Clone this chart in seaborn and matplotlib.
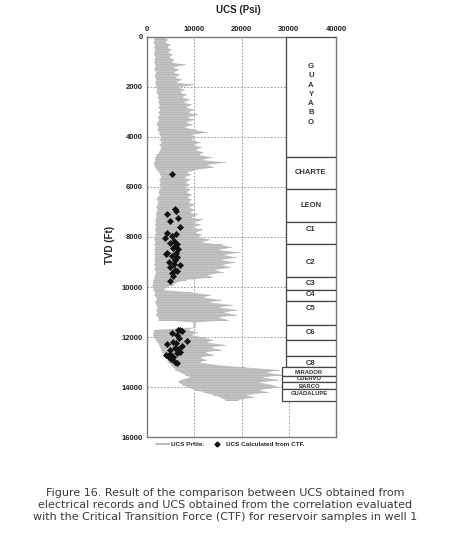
"""
UCS profile vs UCS calculated from CTF, well 1
"""

import numpy as np
import matplotlib
matplotlib.use("Agg")
import matplotlib.pyplot as plt
import seaborn as sns
from matplotlib.lines import Line2D

# UCS log envelope, sampled every 100 ft from 0 to 14500 ft (psi)
profile_depth = np.arange(0, 14600, 100)
ucs_low = [
    1300, 1500, 1300, 1600, 1400, 1600, 1500, 1400, 1700, 1500,
    1500, 1700, 1600, 1500, 1800, 1600, 1700, 1900, 1600, 1800,
    1800, 2100, 1900, 2300, 2200, 2500, 2300, 2600, 2400, 2700,
    2300, 2600, 2200, 2500, 2100, 2000, 2400, 2100, 2500, 2600,
    2900, 2600, 3000, 2600, 2900, 2700, 2500, 2000, 1700, 1600,
    1500, 1400, 1700, 2000, 2500, 2700, 2900, 2500, 2800, 2600,
    2800, 2500, 2400, 2600, 2200, 2000, 2400, 2100, 1900, 2200,
    2000, 1800, 1900, 1700, 1800, 1600, 1800, 1600, 1800, 1600,
    1600, 1500, 1700, 1500, 1700, 1500, 1600, 1500, 1700, 1500,
    1600, 1400, 1700, 1500, 1800, 1600, 1500, 1300, 1200, 1100,
    1200, 1300, 1600, 1500, 1800, 2000, 1600, 1900, 2200, 1900,
    2100, 1800, 2300, 2400, 9700, 9700, 9800, 1400, 1300, 1300,
    1300, 1800, 2200, 2500, 2700, 3000, 3200, 3500, 3800, 4200,
    4500, 5000, 5500, 6000, 7000, 8000, 9000, 7000, 6500, 7500,
    8500, 10000, 12000, 14000, 15500, 16500,
]
ucs_high = [
    3500, 4300, 3800, 4800, 4200, 5000, 4400, 5300, 4600, 5600,
    5200, 8000, 5400, 6600, 5600, 6800, 5900, 7200, 6100, 9800,
    6600, 7800, 6900, 8200, 7400, 8900, 7700, 9300, 8200, 9800,
    8600, 10500, 8400, 9900, 8100, 9600, 7900, 10200, 12600, 9400,
    10400, 9300, 11300, 9800, 11500, 10200, 11800, 10900, 13500, 11600,
    16500, 12600, 14000, 10200, 8400, 9200, 7800, 9000, 8100, 8900,
    8000, 9000, 8300, 9400, 8500, 9300, 8700, 9900, 8800, 10000,
    9000, 10600, 9300, 11600, 9800, 11300, 9600, 11700, 10200, 11400,
    10800, 13200, 11500, 15800, 17800, 15000, 19600, 16200, 18800, 15600,
    18600, 15800, 17600, 14200, 16000, 12800, 13800, 8200, 6200, 5400,
    4000, 3400, 9200, 13400, 11800, 15600, 13000, 18000, 15200, 19000,
    16200, 18800, 15000, 17200, 10200, 10200, 10200, 8600, 10600, 9400,
    11800, 13800, 12600, 16500, 13400, 15600, 12200, 14000, 11200, 12400,
    11000, 14600, 20800, 28000, 25200, 28600, 24400, 27800, 23600, 26400,
    28000, 23800, 25500, 21000, 22400, 19200,
]

# UCS calculated from CTF (reservoir samples)
ctf_depth = [
    5470, 6870, 6950, 7080, 7240, 7360, 7600, 7840, 7900, 7970,
    8050, 8180, 8240, 8270, 8380, 8460, 8480, 8640, 8700, 8640,
    8780, 8800, 8940, 9020, 9070, 9110, 9200, 9310, 9360, 9440,
    9550, 9750,
    11710, 11730, 11750, 11840, 11910, 12040, 12140, 12210, 12240, 12270,
    12350, 12440, 12480, 12510, 12580, 12640, 12670, 12710, 12800, 12800,
    12880, 12980, 13040,
]
ctf_ucs = [
    5300, 6000, 6080, 4240, 6650, 4870, 7070, 4320, 6200, 5380,
    3750, 5720, 4810, 6360, 5870, 5510, 6570, 4240, 4030, 6080,
    5300, 6360, 5870, 4600, 5660, 7070, 4810, 5870, 6360, 5300,
    5510, 4870,
    6570, 7070, 7500, 5380, 6360, 6780, 8480, 5510, 6230, 4240,
    7420, 5870, 6570, 4810, 6930, 6360, 4810, 4100, 5510, 4600,
    5020, 5930, 6360,
]

# Formation column (ft)
formations = ["GUAYABO", "CHARTE", "LEON", "C1", "C2", "C3", "C4", "C5",
              "C6", "", "C8", "MIRADOR", "CUERVO", "BARCO", "GUADALUPE"]
form_top = [0, 4800, 6080, 7400, 8300, 9600, 10100, 10550,
            11500, 12100, 12750, 13200, 13550, 13800, 14080]
form_base = [4800, 6080, 7400, 8300, 9600, 10100, 10550, 11500,
             12100, 12750, 13200, 13550, 13800, 14080, 14550]
form_label_depth = [2300, 5440, 6760, 7700, 9020, 9870, 10300, 10870,
                    11820, 12420, 13040, 13400, 13670, 13970, 14250]

sns.set_style("white")
plt.rcParams["font.family"] = ["Liberation Sans", "DejaVu Sans"]

fig = plt.figure(figsize=(4.5, 5.33), dpi=100)
ax = fig.add_axes([0.3267, 0.1801, 0.42, 0.7505])

# UCS log: band between the envelopes plus thin horizontal streaks
ax.fill_betweenx(profile_depth, ucs_low, ucs_high, color="#c2c2c2", lw=0, zorder=2)
ax.hlines(profile_depth, ucs_low, ucs_high, color="#b8b8b8", lw=0.7, zorder=2)

# CTF points
sns.scatterplot(x=ctf_ucs, y=ctf_depth, ax=ax, marker="D", s=10, color="#111111",
                edgecolor="#111111", linewidth=0.4, zorder=4)

# formation column
for name, top, base, lab in zip(formations, form_top, form_base, form_label_depth):
    left = 28540 if top >= 13200 else 29400
    ax.barh(top, 40000 - left, left=left, height=base - top, align="edge",
            facecolor="white", edgecolor="#444444", lw=0.9, zorder=3)
    mid = (left + 40000) / 2
    if name == "GUAYABO":
        ax.text(mid, lab, "\n".join(name), ha="center", va="center",
                fontsize=5.6, fontweight="bold", color="#333333",
                linespacing=1.45, zorder=5)
    elif name:
        small = top >= 13200
        ax.text(mid, lab, name, ha="center", va="center",
                fontsize=4.2 if small else 5.5, fontweight="bold",
                color="#333333", zorder=5)

ax.set_xlim(0, 40000)
ax.set_ylim(16000, 0)
ax.set_xticks([0, 10000, 20000, 30000, 40000])
ax.set_yticks(np.arange(0, 16001, 2000))
ax.xaxis.tick_top()
ax.tick_params(axis="both", length=0, pad=3, labelsize=5.5, labelcolor="#222222")
for lbl in ax.get_xticklabels() + ax.get_yticklabels():
    lbl.set_fontweight("bold")
ax.grid(True, ls=(0, (2, 2)), color="#8a8a8a", lw=0.6, zorder=1)
for sp in ax.spines.values():
    sp.set_color("#7a7a7a")
    sp.set_linewidth(1.0)
ax.set_xlabel("")
ax.set_ylabel("")

fig.text(0.529, 0.981, "UCS (Psi)", ha="center", va="center", fontsize=7,
         fontweight="bold", color="#222222")
fig.text(0.244, 0.540, "TVD (Ft)", ha="center", va="center", rotation=90,
         fontsize=7, fontweight="bold", color="#222222")

handles = [
    Line2D([], [], color="#bdbdbd", lw=1.5),
    Line2D([], [], color="#111111", marker="D", ls="none", markersize=2.5),
]
ax.legend(handles, ["UCS Prfile.", "UCS Calculated from CTF."], ncol=2,
          loc="upper center", bbox_to_anchor=(0.44, 0.0), frameon=False,
          handlelength=2.0, columnspacing=1.1, handletextpad=0.35,
          borderpad=0.2, prop={"weight": "bold", "size": 4.6})

fig.text(0.5, 0.0525,
         "Figure 16. Result of the comparison between UCS obtained from\n"
         "electrical records and UCS obtained from the correlation evaluated\n"
         "with the Critical Transition Force (CTF) for reservoir samples in well 1",
         ha="center", va="center", fontsize=8, color="#3a3a3a",
         linespacing=1.25, family=["DejaVu Sans"])

fig.savefig("out.png", dpi=100)
